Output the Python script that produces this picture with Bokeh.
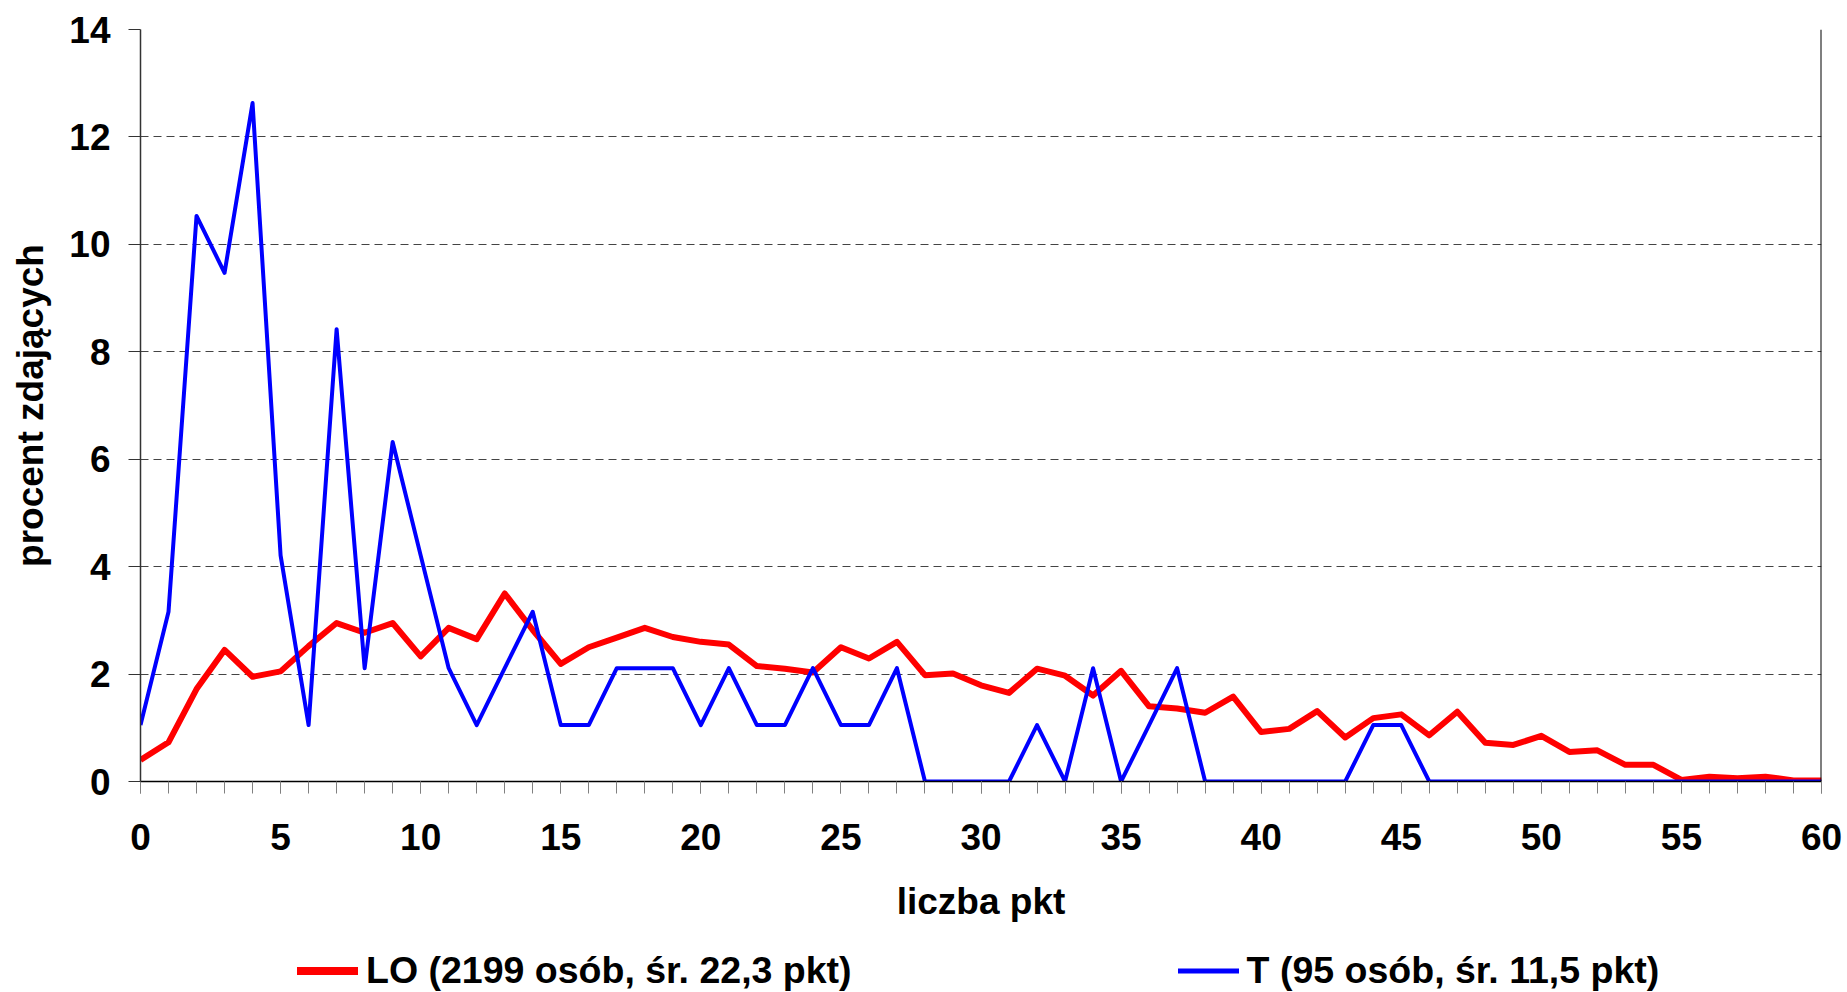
from bokeh.plotting import figure
from bokeh.layouts import column
from bokeh.models import (ColumnDataSource, Range1d, SingleIntervalTicker, Legend,
                          LegendItem, Span)
from bokeh.core.properties import value
from bokeh.embed import file_html
from bokeh.resources import INLINE

# ---- data -------------------------------------------------------------
points = list(range(0, 61))

lo_pct = [0.40, 0.73, 1.72, 2.45, 1.95, 2.05, 2.52, 2.95, 2.77, 2.95,
          2.33, 2.86, 2.65, 3.50, 2.82, 2.19, 2.50, 2.68, 2.86, 2.69,
          2.60, 2.55, 2.15, 2.10, 2.03, 2.50, 2.29, 2.60, 1.98, 2.01,
          1.79, 1.65, 2.10, 1.97, 1.60, 2.06, 1.40, 1.36, 1.28, 1.58,
          0.92, 0.98, 1.31, 0.82, 1.18, 1.25, 0.86, 1.30, 0.72, 0.68,
          0.85, 0.55, 0.58, 0.31, 0.31, 0.03, 0.09, 0.06, 0.09, 0.02,
          0.02]

t_pct = [1.05, 3.16, 10.53, 9.47, 12.63, 4.21, 1.05, 8.42, 2.11, 6.32,
         4.21, 2.11, 1.05, 2.11, 3.16, 1.05, 1.05, 2.11, 2.11, 2.11,
         1.05, 2.11, 1.05, 1.05, 2.11, 1.05, 1.05, 2.11, 0.0, 0.0,
         0.0, 0.0, 1.05, 0.0, 2.11, 0.0, 1.05, 2.11, 0.0, 0.0,
         0.0, 0.0, 0.0, 0.0, 1.05, 1.05, 0.0, 0.0, 0.0, 0.0,
         0.0, 0.0, 0.0, 0.0, 0.0, 0.0, 0.0, 0.0, 0.0, 0.0,
         0.0]

label_lo = "LO (2199 osób, śr. 22,3 pkt)"
label_t = "T (95 osób, śr. 11,5 pkt)"
x_title = "liczba pkt"
y_title = "procent zdających"

FONT = "Liberation Sans"
FS = "37px"

src = ColumnDataSource(dict(x=points, lo=lo_pct, t=t_pct))

# ---- main chart ---------------------------------------------------------
p = figure(width=1847, height=931, output_backend="svg", toolbar_location=None,
           x_range=Range1d(0, 60), y_range=Range1d(0, 14),
           min_border_left=140, min_border_right=26, min_border_top=29,
           min_border_bottom=150)
p.outline_line_color = None
p.background_fill_color = "white"
p.border_fill_color = "white"

xa = p.xaxis[0]
xa.ticker = SingleIntervalTicker(interval=5, num_minor_ticks=5)
xa.axis_line_color = "black"
xa.axis_line_width = 1.5
xa.major_tick_in = 0
xa.major_tick_out = 12
xa.minor_tick_in = 0
xa.minor_tick_out = 12
xa.major_tick_line_color = "#808080"
xa.minor_tick_line_color = "#808080"
xa.major_label_text_font = FONT
xa.major_label_text_font_size = FS
xa.major_label_text_font_style = "bold"
xa.major_label_text_color = "black"
xa.major_label_standoff = 30
xa.axis_label = x_title
xa.axis_label_text_font = FONT
xa.axis_label_text_font_size = FS
xa.axis_label_text_font_style = "bold"
xa.axis_label_text_color = "black"
xa.axis_label_standoff = 28

ya = p.yaxis[0]
ya.ticker = SingleIntervalTicker(interval=2, num_minor_ticks=0)
ya.axis_line_color = "#333333"
ya.axis_line_width = 1.5
ya.major_tick_in = 0
ya.major_tick_out = 12
ya.minor_tick_line_color = None
ya.major_tick_line_color = "#333333"
ya.major_label_text_font = FONT
ya.major_label_text_font_size = FS
ya.major_label_text_font_style = "bold"
ya.major_label_text_color = "black"
ya.major_label_standoff = 18
ya.axis_label = y_title
ya.axis_label_text_font = FONT
ya.axis_label_text_font_size = FS
ya.axis_label_text_font_style = "bold"
ya.axis_label_text_color = "black"
ya.axis_label_standoff = 15

p.xgrid.visible = False
p.ygrid.grid_line_color = "#444444"
p.ygrid.grid_line_dash = "8 5"
p.ygrid.grid_line_width = 1

p.add_layout(Span(location=60, dimension="height", line_color="black", line_width=2))

p.line("x", "lo", source=src, line_color="#FF0000", line_width=6, line_join="round")
p.line("x", "t", source=src, line_color="#0000FF", line_width=4, line_join="round")

# ---- legend strip (same series, drawn out of view; only the legend shows) ----
q = figure(width=1847, height=61, output_backend="svg", toolbar_location=None,
           x_range=Range1d(0, 60), y_range=Range1d(100, 101),
           x_axis_type=None, y_axis_type=None,
           min_border_left=0, min_border_right=0, min_border_top=0,
           min_border_bottom=0)
q.outline_line_color = None
q.grid.visible = False
q.background_fill_color = "white"
q.border_fill_color = "white"

leg_lo = q.line("x", "lo", source=src, line_color="#FF0000", line_width=8, line_cap="round")
leg_t = q.line("x", "t", source=src, line_color="#0000FF", line_width=5, line_cap="round")

legend = Legend(items=[LegendItem(label=value(label_lo), renderers=[leg_lo]),
                       LegendItem(label=value(label_t), renderers=[leg_t])],
                orientation="horizontal", location=(157, 0),
                glyph_width=61, glyph_height=41, label_height=41,
                label_standoff=8, spacing=326,
                padding=0, margin=0, border_line_color=None,
                background_fill_alpha=0,
                label_text_font=FONT, label_text_font_size="37.5px",
                label_text_font_style="bold", label_text_color="black")
q.add_layout(legend)

layout = column(p, q, spacing=0)

open("out.html", "w").write(file_html(layout, INLINE))
